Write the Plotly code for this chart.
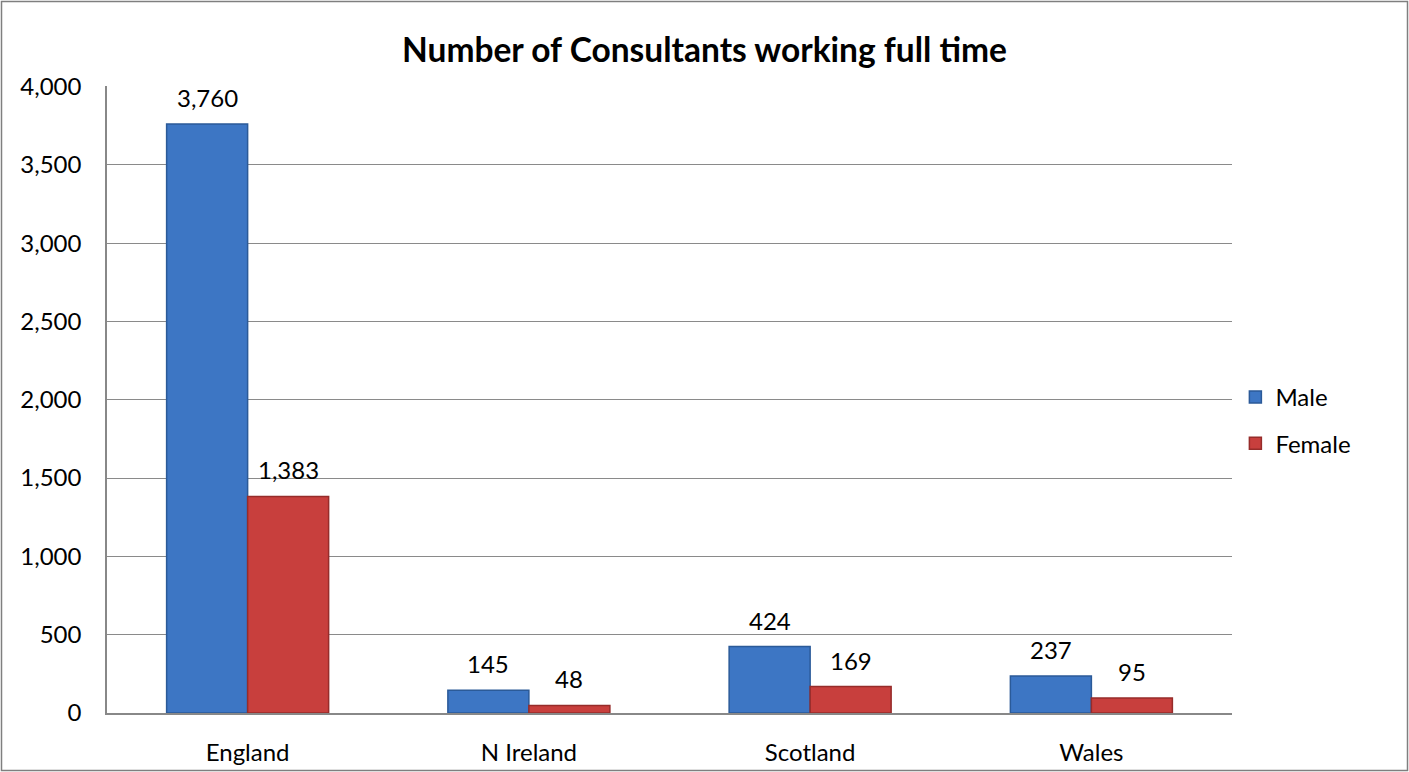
import plotly.graph_objects as go

categories = ["England", "N Ireland", "Scotland", "Wales"]
male = [3760, 145, 424, 237]
female = [1383, 48, 169, 95]
y_ticks = [0, 500, 1000, 1500, 2000, 2500, 3000, 3500, 4000]

W, H = 1409, 772
L, R, T, B = 107, 177, 86, 59
pw, ph = W - L - R, H - T - B
BARGAP = 0.424
bar_px = pw / len(categories) * (1 - BARGAP) / 2

FONT = "Lato"
FS = 24

fig = go.Figure()
fig.add_trace(go.Bar(
    x=categories, y=male, name="Male", legendgroup="m",
    marker=dict(color="#3D76C4", line=dict(color="#2B5A98", width=1.5)),
))
fig.add_trace(go.Bar(
    x=categories, y=female, name="Female", legendgroup="f",
    marker=dict(color="#C83F3D", line=dict(color="#962C2A", width=1.5)),
))

for series, sign in ((male, -1), (female, 1)):
    for cat, v in zip(categories, series):
        fig.add_annotation(x=cat, y=v, text=f"{v:,}", showarrow=False,
                           xanchor="center", yanchor="bottom",
                           xshift=sign * bar_px / 2, yshift=10,
                           font=dict(family=FONT, size=FS, color="#000000"))

fig.update_layout(
    width=W, height=H,
    margin=dict(l=L, r=R, t=T, b=B),
    paper_bgcolor="white", plot_bgcolor="white",
    barmode="group", bargap=BARGAP, bargroupgap=0,
    font=dict(family=FONT, size=FS, color="#000000"),
    title=dict(text="<b>Number of Consultants working full time</b>",
               x=0.5, xanchor="center", y=1 - 50 / H, yanchor="middle",
               font=dict(family=FONT, size=33.5, color="#000000")),
    showlegend=True,
    legend=dict(x=1.003, xanchor="left", y=0.4665, yanchor="middle",
                font=dict(family=FONT, size=FS), tracegroupgap=12,
                bgcolor="rgba(0,0,0,0)"),
)
fig.update_xaxes(showline=True, linecolor="#888888", linewidth=1.5,
                 showgrid=False, ticks="", tickfont=dict(size=FS),
                 ticklabelstandoff=17, automargin=False)
fig.update_yaxes(range=[0, 4003], tickvals=y_ticks, tickformat=",",
                 showline=True, linecolor="#888888", linewidth=1.5,
                 showgrid=True, gridcolor="#8A8A8A", gridwidth=1.2,
                 zeroline=False, ticks="", tickfont=dict(size=FS),
                 ticklabelstandoff=19, automargin=False)
fig.add_shape(type="rect", xref="paper", yref="paper",
              x0=(1.5 - L) / pw, x1=(W - 1.5 - L) / pw,
              y0=-(B - 1.5) / ph, y1=1 + (T - 1.5) / ph,
              line=dict(color="#7F7F7F", width=1.5))
fig.write_html("out.html", config={"displayModeBar": False},
               post_script="document.body.style.margin='0';"
                           "document.body.style.overflow='hidden';")
